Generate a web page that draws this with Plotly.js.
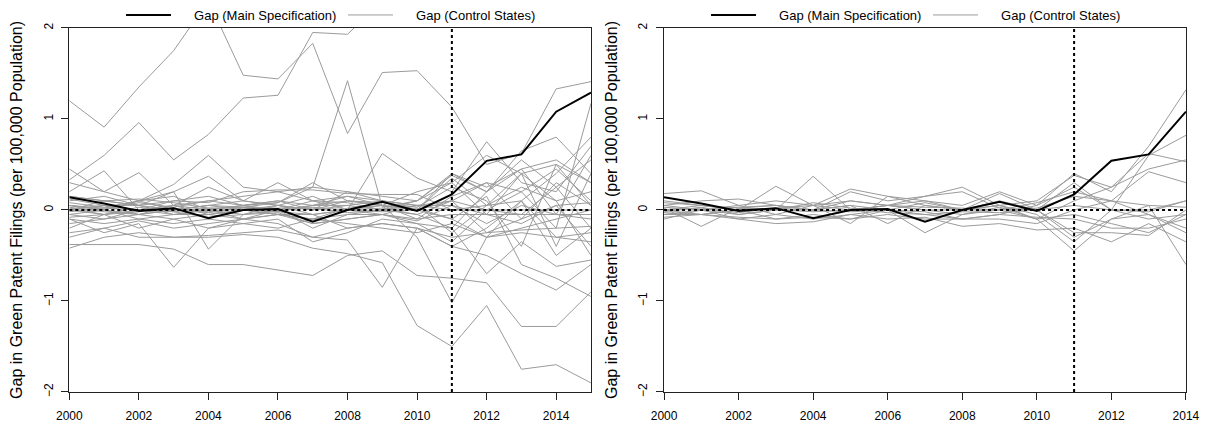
<!DOCTYPE html>
<html>
<head>
<meta charset="utf-8">
<script src="https://cdn.plot.ly/plotly-3.0.1.min.js"></script>
<style>
  body { margin: 0; background: #fff; }
  #chart { width: 1212px; height: 423px; }
</style>
</head>
<body>
<div id="chart"></div>
<script>
// years
var yearsLeft = [2000,2001,2002,2003,2004,2005,2006,2007,2008,2009,2010,2011,2012,2013,2014,2015];
var yearsRight = [2000,2001,2002,2003,2004,2005,2006,2007,2008,2009,2010,2011,2012,2013,2014];
var xTicks = [2000,2002,2004,2006,2008,2010,2012,2014];
var yTicks = [-2,-1,0,1,2];
var treatmentYear = 2011;
var noGap = 0;

// main specification gap
var mainLeft = [0.14,0.07,-0.01,0.02,-0.09,0.00,0.01,-0.13,0.00,0.09,-0.01,0.17,0.54,0.61,1.08,1.29];
var mainRight = [0.14,0.07,-0.01,0.02,-0.09,0.00,0.01,-0.13,0.00,0.09,-0.01,0.17,0.54,0.61,1.08];

// control states (placebo gaps), left panel: all states
var controlsLeft = [
  [1.20,0.91,1.35,1.75,2.30,1.48,1.44,1.83,0.84,1.51,1.53,1.13,0.50,0.62,1.33,1.41],
  [0.33,0.60,0.96,0.55,0.83,1.23,1.26,1.95,1.93,2.30,2.40,2.40,2.50,2.50,2.60,2.60],
  [0.05,0.02,0.08,0.03,0.10,0.05,0.08,0.25,1.42,0.03,0.10,0.38,0.20,0.45,0.55,0.30],
  [-0.38,-0.38,-0.38,-0.43,-0.60,-0.60,-0.66,-0.72,-0.50,-0.45,-0.72,-0.75,-0.80,-1.28,-1.28,-0.90],
  [-0.42,-0.30,-0.25,-0.30,-0.30,-0.27,-0.30,-0.42,-0.48,-0.58,-1.27,-1.50,-1.05,-1.75,-1.70,-1.90],
  [-0.25,-0.20,-0.12,-0.20,-0.15,-0.10,-0.15,-0.30,-0.33,-0.85,-0.20,-0.40,-0.50,-0.70,-0.88,-0.60],
  [0.00,0.05,-0.05,0.00,0.05,0.00,-0.05,-0.10,0.02,0.05,-0.30,-1.02,-0.30,-0.20,-0.10,0.00],
  [-0.10,-0.25,-0.15,-0.63,-0.20,-0.10,-0.05,-0.15,-0.10,-0.05,-0.15,-0.20,-0.70,-0.35,-0.62,-0.55],
  [0.05,0.00,0.10,0.20,-0.43,-0.05,0.05,0.00,0.10,0.05,0.00,-0.10,0.15,-0.60,-0.75,-0.95],
  [0.20,0.43,0.00,0.10,0.15,0.05,0.10,0.00,0.20,0.10,0.05,0.10,0.30,0.20,0.45,0.10],
  [0.45,0.20,0.41,0.05,0.25,0.10,0.30,0.10,0.15,0.05,0.20,0.30,0.60,0.40,0.50,0.05],
  [0.30,0.20,0.10,0.28,0.60,0.25,0.20,0.25,0.20,0.15,0.10,0.40,0.20,0.65,0.80,0.40],
  [0.15,0.10,0.05,0.20,0.37,0.10,0.05,0.15,0.00,0.62,0.35,0.20,0.75,0.30,0.20,0.70],
  [0.10,0.15,0.05,0.10,0.08,0.20,0.22,0.22,0.18,0.17,0.17,0.00,0.05,0.10,0.40,0.80],
  [-0.15,-0.10,-0.05,-0.10,-0.20,-0.15,-0.10,-0.35,-0.25,-0.10,-0.15,-0.35,0.00,0.20,-0.20,1.17],
  [0.05,0.00,-0.05,0.05,0.00,0.05,0.10,0.05,0.05,0.00,0.05,0.00,0.00,0.00,0.00,0.00],
  [-0.05,-0.10,0.00,-0.05,-0.05,0.00,-0.05,-0.10,-0.05,-0.05,-0.10,-0.05,-0.05,-0.05,-0.05,-0.05],
  [0.00,0.05,0.05,0.00,0.05,0.10,0.05,0.00,0.05,0.10,0.00,0.10,-0.25,-0.10,0.05,0.08],
  [-0.10,-0.15,-0.10,-0.15,-0.10,-0.15,-0.20,-0.10,-0.15,-0.20,-0.25,-0.15,-0.30,-0.25,-0.30,-0.35],
  [0.08,0.03,0.10,0.00,0.05,0.03,-0.02,0.05,0.10,0.08,0.03,0.25,0.10,-0.40,0.50,0.30],
  [-0.05,0.00,-0.10,-0.05,0.00,-0.05,0.00,-0.20,-0.05,0.00,-0.05,-0.20,0.20,0.55,0.25,-0.20],
  [0.12,0.05,0.00,0.05,0.10,0.15,0.20,0.10,0.08,0.00,0.10,0.30,-0.05,0.40,0.10,-0.50],
  [-0.20,-0.05,-0.20,-0.10,-0.05,-0.10,-0.05,-0.05,-0.20,-0.15,-0.20,-0.40,-0.20,0.10,-0.50,-0.20],
  [0.02,-0.05,0.00,0.05,-0.05,0.00,0.05,-0.05,0.00,0.05,-0.10,0.15,0.30,-0.10,0.30,0.05],
  [0.00,0.10,0.05,-0.05,0.00,-0.10,0.00,0.10,0.00,-0.05,0.05,-0.25,0.05,0.40,-0.40,0.40],
  [-0.30,-0.20,-0.30,-0.30,-0.28,-0.25,-0.22,-0.30,-0.20,-0.15,-0.20,-0.30,-0.25,-0.22,-0.20,-0.18],
  [0.05,0.00,0.10,0.15,0.00,0.05,0.00,0.05,0.15,0.10,0.05,0.05,-0.15,0.05,-0.05,-0.10],
  [-0.02,0.02,0.00,-0.02,0.02,0.00,-0.02,-0.05,0.00,0.02,-0.05,0.10,0.00,-0.05,0.25,0.55],
  [0.03,-0.02,-0.05,0.00,-0.03,0.02,0.00,0.02,-0.03,0.00,0.02,-0.10,-0.30,0.10,-0.30,-0.25],
  [-0.08,-0.05,0.03,-0.02,-0.08,-0.05,-0.03,-0.15,-0.10,-0.05,-0.12,0.05,-0.05,-0.15,0.05,-0.40],
  [0.00,-0.05,-0.02,0.02,-0.02,0.03,0.02,0.03,0.00,-0.02,0.00,0.35,0.05,0.25,0.10,0.20],
  [0.15,0.10,0.12,0.08,0.02,0.03,0.08,0.30,0.10,0.05,0.00,0.40,0.25,0.45,-0.05,0.60]
];

// right panel: control states with good pre-treatment fit
var controlsRight = [
  [0.18,0.21,0.05,0.10,0.05,0.10,0.05,0.10,0.05,0.20,0.05,0.40,0.20,0.70,1.32],
  [0.05,0.10,0.12,0.05,0.00,0.20,0.10,0.15,0.25,0.05,0.10,0.38,0.25,0.62,0.53],
  [0.00,0.05,0.00,0.26,0.05,0.23,0.15,0.05,0.00,0.18,0.00,0.30,0.00,0.60,0.82],
  [-0.05,0.00,-0.05,0.00,0.37,0.00,0.05,0.00,0.00,0.00,0.08,0.20,0.10,0.42,0.30],
  [-0.10,0.00,-0.10,-0.05,-0.10,-0.05,0.00,-0.25,-0.05,0.00,-0.10,0.10,0.25,0.45,0.55],
  [0.10,0.05,0.02,0.05,0.00,0.05,0.00,0.08,0.00,0.05,-0.05,-0.35,0.00,0.00,0.10],
  [0.02,-0.18,0.02,0.00,-0.02,0.00,0.05,0.00,-0.05,0.03,-0.10,-0.45,-0.10,0.05,-0.60],
  [-0.05,-0.05,-0.10,-0.15,-0.13,-0.05,-0.10,-0.08,-0.18,-0.15,-0.22,-0.20,-0.35,-0.15,-0.35],
  [0.05,0.00,0.05,-0.05,0.05,-0.15,0.15,0.10,0.00,0.10,0.00,-0.25,-0.25,-0.28,0.00],
  [-0.02,0.03,-0.05,0.00,0.00,0.05,-0.15,0.05,0.00,0.05,-0.10,-0.05,-0.15,-0.25,-0.05],
  [0.00,-0.05,0.00,-0.10,-0.05,-0.10,0.00,-0.05,-0.10,-0.10,-0.15,0.00,0.10,-0.05,-0.20],
  [0.08,0.05,0.00,0.02,0.05,0.00,0.05,0.03,0.02,0.00,0.02,0.15,0.10,0.05,0.03],
  [-0.08,-0.05,-0.08,-0.10,-0.08,-0.10,-0.05,-0.10,-0.10,-0.05,-0.08,-0.10,-0.20,-0.20,-0.10],
  [0.03,0.00,0.03,0.05,0.00,0.10,0.05,0.15,0.20,0.02,0.00,-0.30,-0.10,-0.05,-0.25],
  [-0.03,-0.05,0.00,0.00,0.08,0.02,-0.03,-0.05,-0.02,-0.03,0.00,0.05,0.00,-0.10,-0.05],
  [0.00,0.02,-0.03,0.02,0.00,-0.02,0.00,-0.02,-0.10,-0.05,0.05,0.25,0.00,-0.02,0.10]
];

var mainName = 'Gap (Main Specification)';
var controlName = 'Gap (Control States)';
var yTitle = 'Gap in Green Patent Filings (per 100,000 Population)';
// R legends leave a wider gap between the line sample and the label
var legendPad = '\u00a0\u00a0\u00a0\u00a0\u00a0';

function refTraces(years, xa, ya) {
  var dotted = { color: 'black', width: 2, dash: 'dot' };
  return [
    { x: [years[0], years[years.length - 1]], y: [noGap, noGap],
      xaxis: xa, yaxis: ya, type: 'scatter', mode: 'lines',
      showlegend: false, hoverinfo: 'skip', line: dotted },
    { x: [treatmentYear, treatmentYear], y: [yTicks[0], yTicks[yTicks.length - 1]],
      xaxis: xa, yaxis: ya, type: 'scatter', mode: 'lines',
      showlegend: false, hoverinfo: 'skip', line: dotted }
  ];
}

function panelTraces(years, controls, main, xa, ya, legendId) {
  var traces = [];
  for (var i = 0; i < controls.length; i++) {
    traces.push({
      x: years, y: controls[i],
      xaxis: xa, yaxis: ya,
      type: 'scatter', mode: 'lines',
      name: legendPad + controlName,
      legend: legendId,
      legendrank: 2,
      showlegend: i === 0,
      line: { color: 'rgb(155,155,155)', width: 1 },
      hoverinfo: 'skip'
    });
  }
  traces = traces.concat(refTraces(years, xa, ya));
  traces.push({
    x: years, y: main,
    xaxis: xa, yaxis: ya,
    type: 'scatter', mode: 'lines',
    name: legendPad + mainName,
    legend: legendId,
    legendrank: 1,
    line: { color: 'black', width: 2 }
  });
  return traces;
}

function xAxis(domain, years, anchor) {
  return {
    domain: domain, anchor: anchor,
    range: [years[0], years[years.length - 1]],
    tickvals: xTicks,
    ticks: 'outside', ticklen: 7, tickcolor: '#222',
    ticklabelstandoff: 6,
    showline: true, mirror: true, linecolor: '#222', linewidth: 1,
    showgrid: false, zeroline: false,
    tickfont: { size: 12, color: '#000' }
  };
}

function yAxis(domain, anchor) {
  return {
    domain: domain, anchor: anchor,
    range: [yTicks[0], yTicks[yTicks.length - 1]],
    tickvals: yTicks,
    tickangle: -90,
    ticks: 'outside', ticklen: 7, tickcolor: '#222',
    ticklabelstandoff: 4,
    showline: true, mirror: true, linecolor: '#222', linewidth: 1,
    showgrid: false, zeroline: false,
    tickfont: { size: 12, color: '#000' },
    title: { text: yTitle, font: { size: 16, color: '#000' }, standoff: 14 },
    automargin: false
  };
}

var data = panelTraces(yearsLeft, controlsLeft, mainLeft, 'x', 'y', 'legend')
  .concat(panelTraces(yearsRight, controlsRight, mainRight, 'x2', 'y2', 'legend2'));

var legendStyle = function(xc) {
  return {
    orientation: 'h', x: xc, xanchor: 'center', y: 1.0, yanchor: 'top',
    font: { size: 13, color: '#000' }, bgcolor: 'rgba(0,0,0,0)',
    traceorder: 'normal', itemwidth: 45, entrywidth: 162
  };
};

var yDomain = [0.0733, 0.934];

var layout = {
  width: 1212, height: 423,
  margin: { l: 0, r: 0, t: 0, b: 0 },
  paper_bgcolor: 'white', plot_bgcolor: 'white',
  font: { family: 'Liberation Sans, Arial, sans-serif', color: '#000' },
  xaxis: xAxis([0.0572, 0.4876], yearsLeft, 'y'),
  yaxis: yAxis(yDomain, 'x'),
  xaxis2: xAxis([0.5479, 0.9785], yearsRight, 'y2'),
  yaxis2: yAxis(yDomain, 'x2'),
  legend: legendStyle(0.2830),
  legend2: legendStyle(0.7657),
  showlegend: true
};

Plotly.newPlot('chart', data, layout, { displayModeBar: false, staticPlot: true });
</script>
</body>
</html>
